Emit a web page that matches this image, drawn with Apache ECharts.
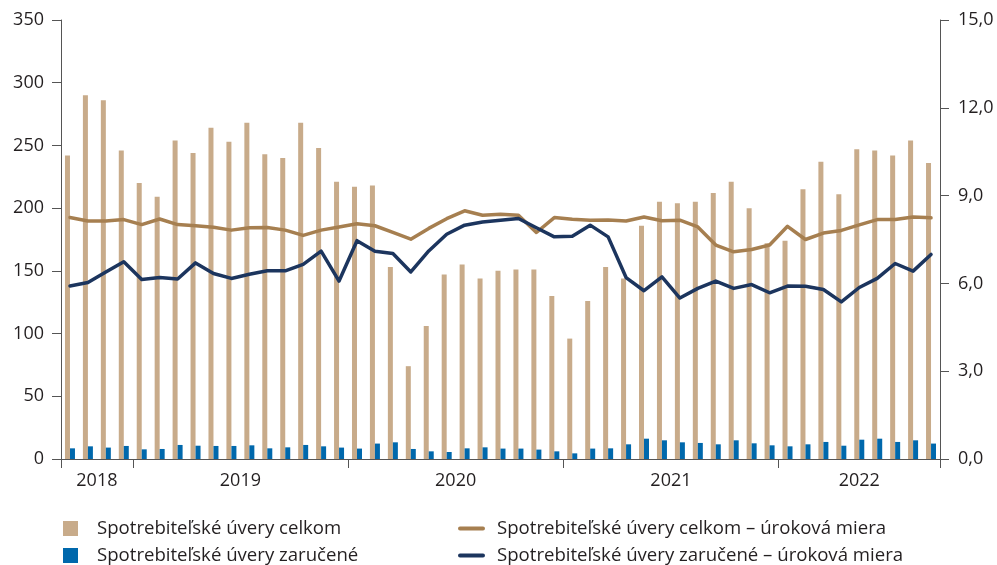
<!DOCTYPE html>
<html>
<head>
<meta charset="utf-8">
<script src="https://cdn.jsdelivr.net/npm/echarts@6/dist/echarts.min.js"></script>
<style>
html,body{margin:0;padding:0;background:#fff;}
#c{width:997px;height:565px;}
</style>
</head>
<body>
<div id="c"></div>
<script>
const months = [
  '2018-09','2018-10','2018-11','2018-12',
  '2019-01','2019-02','2019-03','2019-04','2019-05','2019-06','2019-07','2019-08','2019-09','2019-10','2019-11','2019-12',
  '2020-01','2020-02','2020-03','2020-04','2020-05','2020-06','2020-07','2020-08','2020-09','2020-10','2020-11','2020-12',
  '2021-01','2021-02','2021-03','2021-04','2021-05','2021-06','2021-07','2021-08','2021-09','2021-10','2021-11','2021-12',
  '2022-01','2022-02','2022-03','2022-04','2022-05','2022-06','2022-07','2022-08','2022-09'
];
const yearLabels = ['2018','2019','2020','2021','2022'];

const uveryCelkom = [242,290,286,246,220,209,254,244,264,253,268,243,240,268,248,221,217,218,153,74,106,147,155,144,150,151,151,130,96,126,153,144,186,205,204,205,212,221,200,172,174,215,237,211,247,246,242,254,236];
const uveryZarucene = [8.5,10.1,9.1,10.4,7.7,8.0,11.2,10.6,10.4,10.4,10.9,8.5,9.3,11.2,10.1,9.1,8.3,12.3,13.3,8.0,6.1,5.6,8.5,9.3,8.3,8.3,7.5,6.1,4.5,8.3,8.5,11.7,16.2,14.9,13.3,12.8,11.7,14.9,12.5,10.9,10.1,11.7,13.6,10.6,15.4,16.2,13.6,14.9,12.3];
const sadzbaCelkom = [8.25,8.13,8.13,8.18,8.01,8.2,8.01,7.97,7.92,7.82,7.9,7.91,7.82,7.64,7.82,7.93,8.04,7.97,7.74,7.51,7.88,8.21,8.48,8.33,8.36,8.33,7.74,8.25,8.19,8.16,8.17,8.13,8.27,8.14,8.16,7.93,7.31,7.08,7.16,7.31,7.95,7.5,7.72,7.81,8.0,8.18,8.18,8.27,8.24];
const sadzbaZarucene = [5.91,6.03,6.39,6.74,6.13,6.20,6.15,6.70,6.34,6.17,6.31,6.43,6.43,6.65,7.10,6.08,7.46,7.10,7.02,6.39,7.11,7.68,7.99,8.10,8.16,8.22,7.90,7.59,7.61,7.99,7.59,6.20,5.75,6.22,5.50,5.83,6.08,5.83,5.96,5.68,5.91,5.90,5.79,5.37,5.86,6.17,6.68,6.42,6.99];

const names = [
  'Spotrebiteľské úvery celkom',
  'Spotrebiteľské úvery zaručené',
  'Spotrebiteľské úvery celkom – úroková miera',
  'Spotrebiteľské úvery zaručené – úroková miera'
];

// half-month positions for year labels and year boundary ticks
const halfCats = [];
for (let k = 0; k <= months.length * 2; k++) halfCats.push(String(k));
const yearLabelAt = {};
const boundaryTicks = new Set([0, months.length * 2]);
yearLabels.forEach(y => {
  const idx = months.map((m, i) => m.startsWith(y) ? i : -1).filter(i => i >= 0);
  const first = idx[0], last = idx[idx.length - 1];
  yearLabelAt[first + last + 1] = y;
  boundaryTicks.add(first * 2);
});

const FONT = 'Open Sans';
const TXT = '#231f20';
const AX = '#555555';
const lineIcon = 'path://M2,0 L25,0 A2,2 0 0 1 25,4 L2,4 A2,2 0 0 1 2,0 Z';

function legendItem(name, left, top, isLine) {
  return {
    data: [name], orient: 'horizontal', left: left, top: top, padding: 0,
    icon: isLine ? lineIcon : 'rect',
    itemWidth: isLine ? 27 : 15, itemHeight: isLine ? 4 : 15,
    textStyle: { fontSize: 18.6, lineHeight: 18, color: TXT, fontFamily: FONT,
      padding: [0, 0, 0, isLine ? 7 : 14] }
  };
}

const chart = echarts.init(document.getElementById('c'));
chart.setOption({
  animation: false,
  textStyle: { fontFamily: FONT },
  grid: { left: 61, right: 57, top: 20, bottom: 106, containLabel: false },
  xAxis: [
    {
      type: 'category', data: months, boundaryGap: true,
      axisLine: { show: true, lineStyle: { color: AX, width: 1 } },
      axisTick: { show: false }, axisLabel: { show: false }, splitLine: { show: false }
    },
    {
      type: 'category', data: halfCats, boundaryGap: false, position: 'bottom',
      axisLine: { show: false },
      axisTick: { show: true, length: 9, lineStyle: { color: AX, width: 1 },
        interval: (i) => boundaryTicks.has(i) },
      axisLabel: { show: true, interval: 0, margin: 13, fontSize: 18, color: TXT, fontFamily: FONT,
        formatter: (v, i) => yearLabelAt[i] || '' },
      splitLine: { show: false }
    }
  ],
  yAxis: [
    {
      type: 'value', min: 0, max: 350, interval: 50,
      axisLine: { show: true, lineStyle: { color: AX, width: 1 } },
      axisTick: { show: true, length: 9, lineStyle: { color: AX } },
      axisLabel: { margin: 17, fontSize: 18, color: TXT, fontFamily: FONT },
      splitLine: { show: false }
    },
    {
      type: 'value', min: 0, max: 15, interval: 3,
      axisLine: { show: true, lineStyle: { color: AX, width: 1 } },
      axisTick: { show: true, length: 9, lineStyle: { color: AX } },
      axisLabel: { margin: 18, fontSize: 18, color: TXT, fontFamily: FONT,
        formatter: v => v.toFixed(1).replace('.', ',') },
      splitLine: { show: false }
    }
  ],
  legend: [
    legendItem(names[0], 63, 519, false),
    legendItem(names[1], 63, 546, false),
    legendItem(names[2], 458, 519, true),
    legendItem(names[3], 458, 546, true)
  ],
  series: [
    { name: names[0], type: 'bar', data: uveryCelkom, barWidth: 5, barGap: '0%',
      itemStyle: { color: '#c8ab8a' } },
    { name: names[1], type: 'bar', data: uveryZarucene, barWidth: 5, barGap: '0%',
      itemStyle: { color: '#0068ac' } },
    { name: names[2], type: 'line', yAxisIndex: 1, data: sadzbaCelkom, symbol: 'none',
      lineStyle: { color: '#a67f50', width: 3.5, cap: 'round', join: 'round' }, itemStyle: { color: '#a67f50' }, z: 3 },
    { name: names[3], type: 'line', yAxisIndex: 1, data: sadzbaZarucene, symbol: 'none',
      lineStyle: { color: '#1c355e', width: 3.5, cap: 'round', join: 'round' }, itemStyle: { color: '#1c355e' }, z: 4 }
  ]
});
</script>
</body>
</html>
